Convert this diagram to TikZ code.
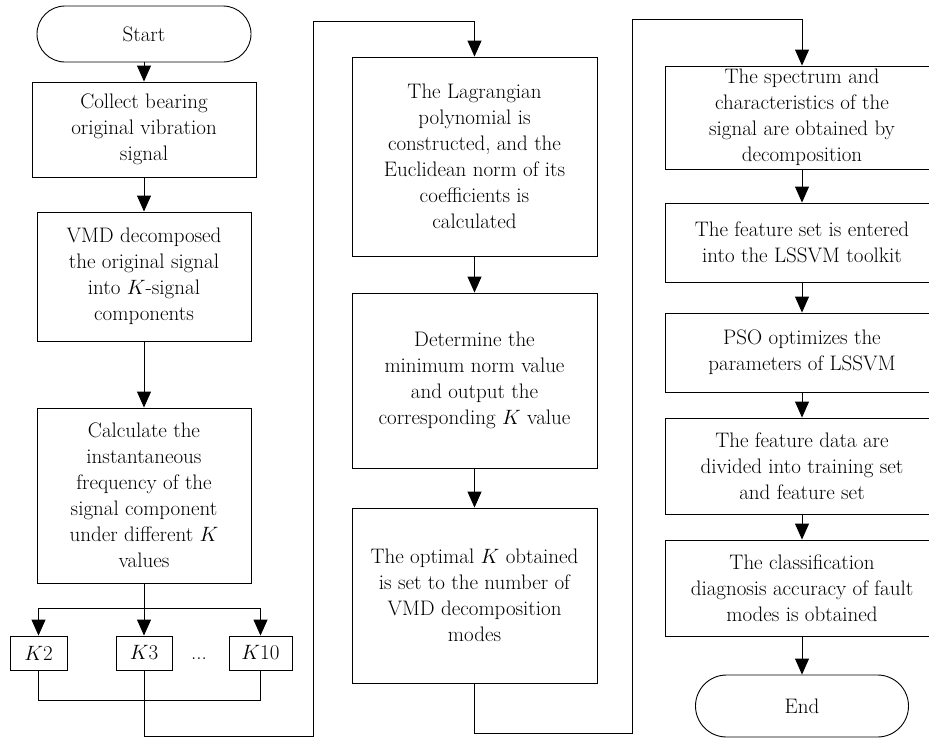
\documentclass[tikz,border=0pt]{standalone}
\usepackage{fontspec}
\usetikzlibrary{arrows.meta}

\tikzset{
  box/.style={draw, line width=0.9pt, align=center, inner sep=0pt,
    font=\fontsize{21}{26}\selectfont},
  term/.style={box, rounded corners=28pt},
  flow/.style={line width=0.9pt, -{Triangle[width=14pt,length=16pt]}},
  wire/.style={line width=0.9pt},
}

\begin{document}
\begin{tikzpicture}[x=1pt,y=-1pt]
    \useasboundingbox (0,0) rectangle (929,737);

    % Erste Spalte
    \node[term, minimum width=214pt, minimum height=56pt] (start) at (144,34) {Start};
    \node[box, minimum width=224pt, minimum height=95pt] (collect) at (144,129.5)
      {Collect bearing\\original vibration\\signal};
    \node[box, minimum width=214pt, minimum height=129pt] (vmd) at (144,276.5)
      {VMD decomposed\\the original signal\\into $K$-signal\\components};
    \node[box, minimum width=214pt, minimum height=175pt] (calc) at (144,495.5)
      {Calculate the\\instantaneous\\frequency of the\\signal component\\under different $K$\\values};
    \node[box, minimum width=57pt, minimum height=34pt] (k2) at (38.5,653) {$K$2};
    \node[box, minimum width=56pt, minimum height=34pt] (k3) at (144,653) {$K$3};
    \node[font=\fontsize{21}{26}\selectfont, anchor=base] (dots) at (199,659) {...};
    \node[box, minimum width=63pt, minimum height=34pt] (k10) at (260.5,653) {$K$10};

    \coordinate (fork) at (144,608);
    \coordinate (join) at (144,700);
    \coordinate (loopA) at (313,736);
    \coordinate (loopB) at (313,21);

    \draw[flow] (start) -- (collect);
    \draw[flow] (collect) -- (vmd);
    \draw[flow] (vmd) -- (calc);
    \draw[flow] (calc) -- (k3);
    \draw[flow] (fork) -| (k2);
    \draw[flow] (fork) -| (k10);
    \draw[wire] (k2) |- (join) -| (k10);

    % Zweite Spalte
    \node[box, minimum width=245pt, minimum height=199pt] (lag) at (474.5,156.5)
      {The Lagrangian\\polynomial is\\constructed, and the\\Euclidean norm of its\\coefficients is\\calculated};
    \node[box, minimum width=245pt, minimum height=175pt] (norm) at (474.5,380.5)
      {Determine the\\minimum norm value\\and output the\\corresponding $K$ value};
    \node[box, minimum width=245pt, minimum height=175pt] (opt) at (474.5,595.5)
      {The optimal $K$ obtained\\is set to the number of\\VMD decomposition\\modes};

    \coordinate (loopC) at (632,733);
    \coordinate (loopD) at (632,19);

    \draw[flow] (k3) |- (loopA) -- (loopB) -| (lag);
    \draw[flow] (lag) -- (norm);
    \draw[flow] (norm) -- (opt);

    % Dritte Spalte
    \node[box, minimum width=274pt, minimum height=103pt] (spec) at (802,117.5)
      {The spectrum and\\characteristics of the\\signal are obtained by\\decomposition};
    \node[box, minimum width=274pt, minimum height=79pt] (feat) at (802,242.5)
      {The feature set is entered\\into the LSSVM toolkit};
    \node[box, minimum width=274pt, minimum height=79pt] (pso) at (802,352.5)
      {PSO optimizes the\\parameters of LSSVM};
    \node[box, minimum width=274pt, minimum height=96pt] (data) at (802,466)
      {The feature data are\\divided into training set\\and feature set};
    \node[box, minimum width=274pt, minimum height=96pt] (class) at (802,588)
      {The classification\\diagnosis accuracy of fault\\modes is obtained};
    \node[term, rounded corners=31pt, minimum width=213pt, minimum height=62pt] (end) at (802,706) {End};

    \draw[flow] (opt) |- (loopC) -- (loopD) -| (spec);
    \draw[flow] (spec) -- (feat);
    \draw[flow] (feat) -- (pso);
    \draw[flow] (pso) -- (data);
    \draw[flow] (data) -- (class);
    \draw[flow] (class) -- (end);
\end{tikzpicture}
\end{document}
